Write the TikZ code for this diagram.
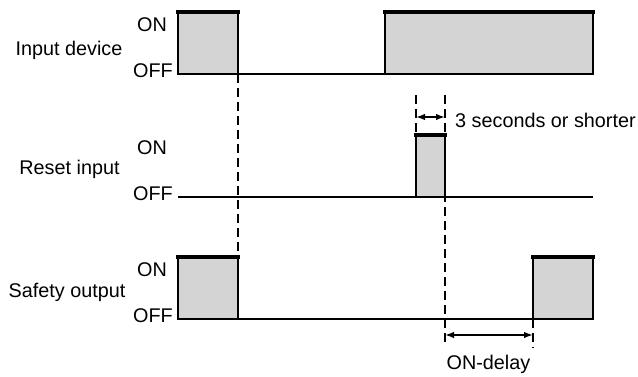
\documentclass[tikz,border=0pt]{standalone}
\usepackage{fontspec}
\setmainfont{Liberation Sans}
\usetikzlibrary{arrows.meta}
\definecolor{Pulse}{HTML}{D4D4D4}
\definecolor{Ink}{HTML}{000000}

\begin{document}
\begin{tikzpicture}[x=1pt,y=-1pt,
  lbl/.style={font=\fontsize{19.8}{23}\selectfont,inner sep=0pt},
  wave/.style={Ink,line width=1.8pt},
  topbar/.style={Ink,line width=4pt,line cap=rect},
  guide/.style={Ink,line width=1.6pt,dash pattern=on 9pt off 5pt},
  span/.style={Ink,line width=1.6pt,{Latex[length=9pt,width=6.5pt]}-{Latex[length=9pt,width=6.5pt]}}]
  \useasboundingbox (0,0) rectangle (638,376);
  \def\xa{178}
  \def\xe{593}
  % signal rows: name / label / label centre / label base / ON / OFF
  \foreach \nm/\lab/\cx/\lb/\on/\off in {
    in/Input device/69/55/12/74,
    rst/Reset input/69.5/174/135/197,
    out/Safety output/67/297.5/257/319} {
    \draw[wave] (\xa,\off) -- (\xe,\off);
    \node[lbl,anchor=base] (\nm-name) at (\cx,\lb) {\lab};
    \node[lbl,anchor=base east] (\nm-on) at (167,\on+19) {ON};
    \node[lbl,anchor=base east] (\nm-off) at (173,\off+3) {OFF};
  }
  % pulses: left / right / ON / OFF
  \foreach \l/\r/\on/\off in {
    178/238/12/74, 385/593/12/74,
    416/445/135/197,
    178/238/257/319, 533/593/257/319} {
    \filldraw[wave,fill=Pulse] (\l,\off) rectangle (\r,\on);
    \draw[topbar] (\l,\on) -- (\r,\on);
  }
  % guide lines
  \draw[guide] (238,74) -- (238,257);
  \draw[guide] (416,95) -- (416,135);
  \draw[guide] (445,95) -- (445,343);
  \draw[guide] (533,319) -- (533,348);
  % timing spans
  \coordinate (rstL) at (416,117);
  \coordinate (rstR) at (445,117);
  \draw[span] (rstL) -- (rstR);
  \node[lbl,anchor=base west] (rst-note) at (455,127.5) {3 seconds or shorter};
  \coordinate (dlyL) at (445,335);
  \coordinate (dlyR) at (533,335);
  \draw[span] (dlyL) -- (dlyR);
  \node[lbl,anchor=base] (dly-note) at (488.5,369) {ON-delay};
\end{tikzpicture}
\end{document}
